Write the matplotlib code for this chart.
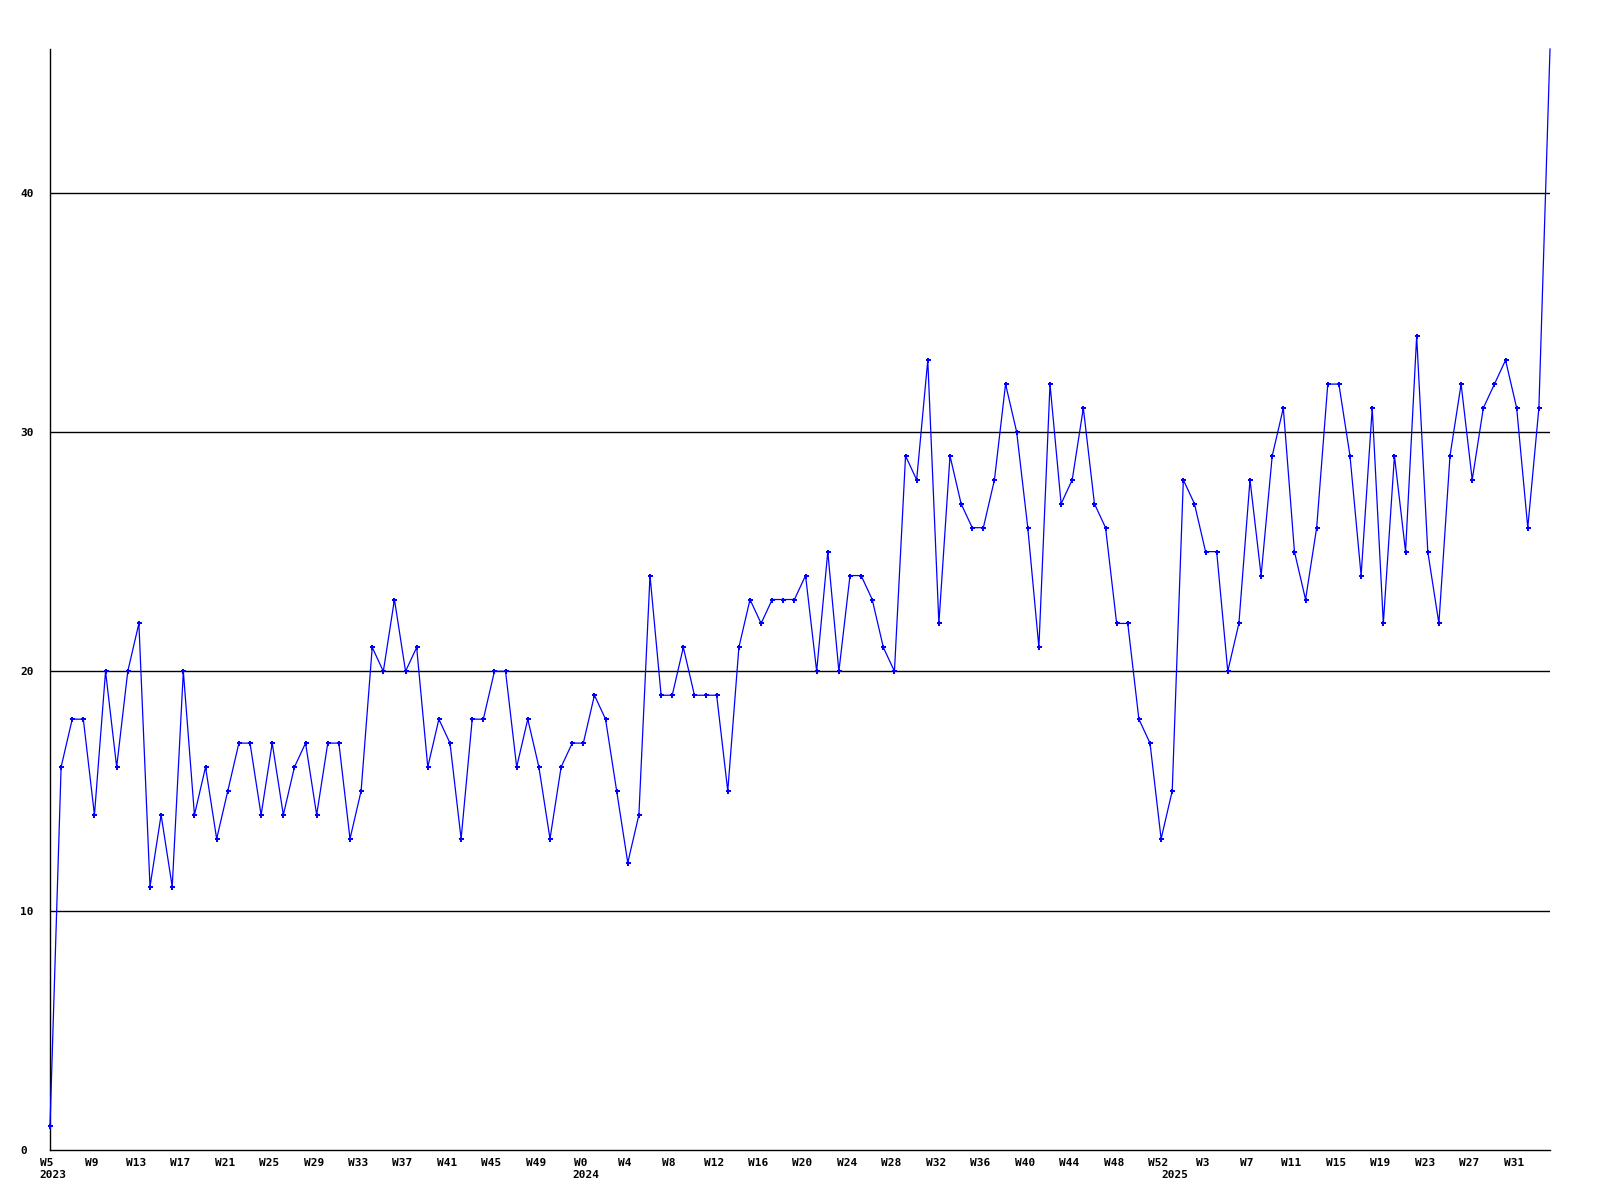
import matplotlib
matplotlib.use("Agg")
import matplotlib.pyplot as plt
from matplotlib.transforms import offset_copy, ScaledTranslation

# weekly values: 2023 W5 .. 2023 W52, 2024 W0 .. W52, 2025 W0 .. W34
values = [1, 16, 18, 18, 14, 20, 16, 20, 22, 11, 14, 11, 20, 14, 16, 13, 15, 17, 17, 14,
          17, 14, 16, 17, 14, 17, 17, 13, 15, 21, 20, 23, 20, 21, 16,
          18, 17, 13, 18, 18, 20, 20, 16, 18, 16, 13, 16, 17, 17, 19, 18, 15, 12, 14, 24,
          19, 19, 21, 19, 19, 19, 15, 21, 23, 22, 23, 23, 23,
          24, 20, 25, 20, 24, 24, 23, 21, 20, 29, 28, 33, 22, 29, 27, 26, 26, 28, 32, 30,
          26, 21, 32, 27, 28, 31, 27, 26, 22, 22, 18, 17, 13, 15,
          28, 27, 25, 25, 20, 22, 28, 24, 29, 31, 25, 23, 26, 32, 32, 29, 24, 31, 22, 29,
          25, 34, 25, 22, 29, 32, 28, 31, 32, 33, 31, 26, 31, 46]

years = [2023] * 48 + [2024] * 53 + [2025] * 35
weeks = list(range(5, 53)) + list(range(0, 53)) + list(range(0, 35))
year_labels = ["2023", "2024", "2025"]
y_ticks = [0, 10, 20, 30, 40]

n = len(values)
x = list(range(n))

fig = plt.figure(figsize=(16, 12), dpi=100)
ax = fig.add_axes([50 / 1600, 1 - 1150 / 1200, 1500 / 1600, (1150 - 49) / 1200])

font = dict(family="DejaVu Sans Mono", weight="bold", size=8)

for yv in y_ticks[1:]:
    ax.axhline(yv, color="black", lw=1.0, zorder=1)

ax.plot(x, values, color="#0000ff", lw=0.9, zorder=3, clip_on=False)
ax.plot(x[:-1], values[:-1], linestyle="none", marker="P", markersize=3.6,
        markeredgewidth=0, markerfacecolor="#0000ff", clip_on=False, zorder=4)

ax.set_xlim(0, n - 1)
ax.set_ylim(0, 46)

for s in ["top", "right"]:
    ax.spines[s].set_visible(False)
ax.spines["left"].set_linewidth(1.0)
ax.spines["bottom"].set_linewidth(1.0)

# y tick labels, left-aligned near the figure edge
ax.set_yticks(y_ticks)
ax.set_yticklabels([str(v) for v in y_ticks], fontdict=font)
for lab in ax.get_yticklabels():
    lab.set_horizontalalignment("left")
ax.tick_params(axis="y", length=0, pad=21.5)

# x tick labels every 4 weeks
xt = list(range(0, n, 4))
ax.set_xticks(xt)
ax.set_xticklabels(["W%d" % weeks[i] for i in xt], fontdict=font)
ax.tick_params(axis="x", length=0, pad=6)
shift = ScaledTranslation(-3 / 100, 0, fig.dpi_scale_trans)
for lab in ax.get_xticklabels():
    lab.set_transform(lab.get_transform() + shift)

# year labels at first week of each year, left aligned with the week label
first_idx = [years.index(int(y)) for y in year_labels]
for idx, ylab in zip(first_idx, year_labels):
    tr = offset_copy(ax.get_xaxis_transform(), fig=fig, x=-10.5, y=-30, units="dots")
    ax.text(idx, 0, ylab, transform=tr, ha="left", va="bottom", **font)

fig.savefig("out.png", dpi=100)
